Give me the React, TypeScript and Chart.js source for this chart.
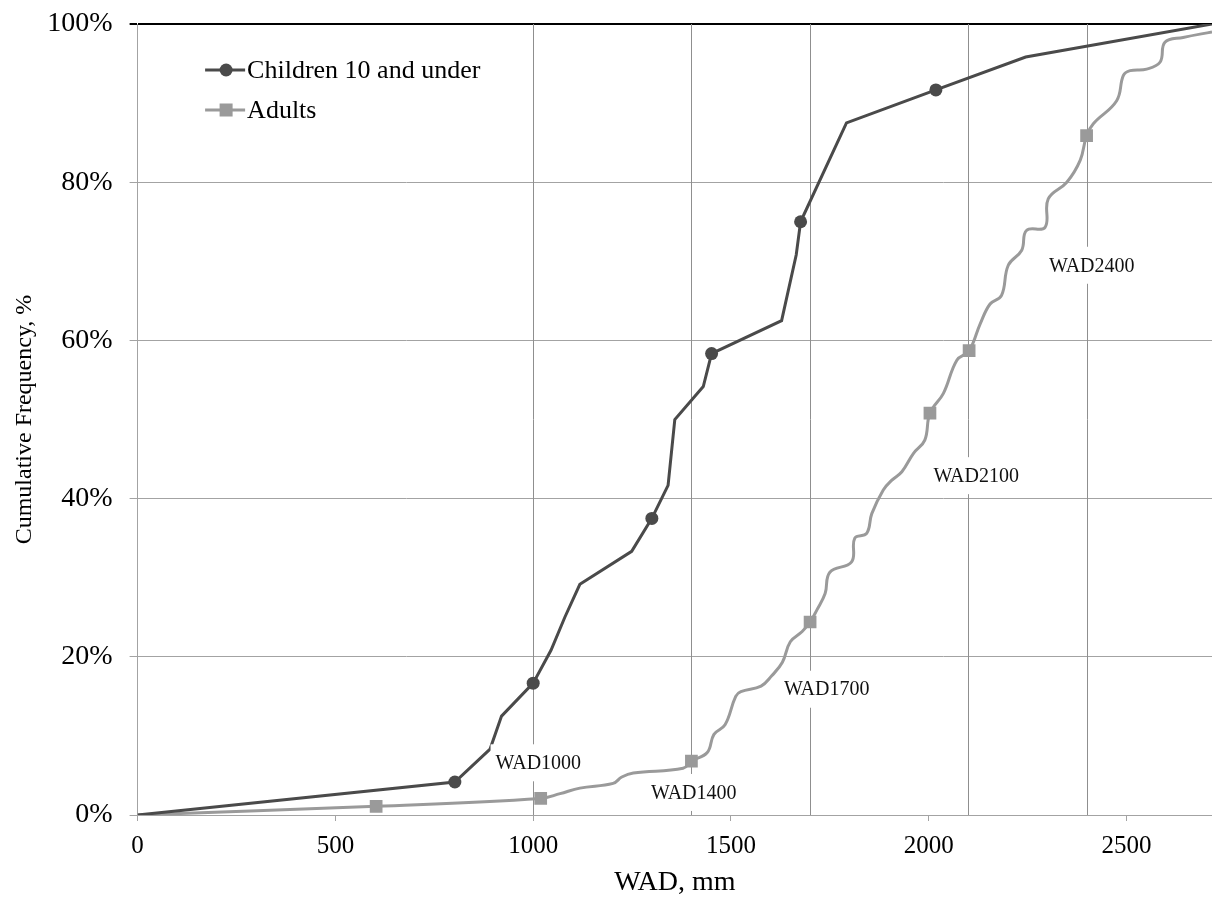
import React, { useEffect, useRef } from "react";
import { Chart, registerables } from "chart.js";

Chart.register(...registerables);

// ---------- data ----------
const xTickValues = [0, 500, 1000, 1500, 2000, 2500];
const xMax = 2716;

const childrenWad = [0, 802, 891, 920, 1000, 1045, 1080, 1118, 1249, 1300, 1341, 1358, 1430, 1451, 1628, 1665, 1676, 1792, 2018, 2245, 2716];
const childrenFreq = [0, 4.17, 8.33, 12.5, 16.67, 20.83, 25, 29.17, 33.33, 37.5, 41.67, 50, 54.17, 58.33, 62.5, 70.83, 75, 87.5, 91.67, 95.83, 100];
const childrenMarked = [false, true, false, false, true, false, false, false, false, true, false, false, false, true, false, false, true, false, true, false, false];

const adultsWad = [0, 603, 1019, 1068, 1118, 1202, 1224, 1253, 1379, 1400, 1440, 1457, 1485, 1512, 1525, 1576, 1603, 1630, 1650, 1680, 1700, 1717, 1738, 1750, 1805, 1813, 1843, 1856, 1885, 1906, 1932, 1961, 1990, 2003, 2037, 2071, 2102, 2130, 2155, 2184, 2201, 2235, 2247, 2294, 2302, 2349, 2383, 2399, 2416, 2475, 2492, 2509, 2551, 2585, 2597, 2643, 2716];
const adultsFreq = [0, 1.1, 2.1, 2.7, 3.4, 4.0, 4.8, 5.3, 5.9, 6.8, 7.9, 10.2, 11.4, 15.0, 15.6, 16.3, 17.6, 19.3, 21.9, 23.2, 24.4, 25.9, 28.0, 30.7, 32.0, 35.0, 35.6, 38.1, 41.1, 42.3, 43.4, 45.7, 47.4, 50.8, 53.3, 57.5, 58.7, 62.1, 64.6, 65.7, 69.5, 71.4, 73.9, 74.3, 77.9, 80.0, 82.8, 85.9, 87.4, 90.3, 93.5, 94.1, 94.3, 95.2, 97.7, 98.3, 99.0];
const adultsMarkedAt = [603, 1019, 1400, 1700, 2003, 2102, 2399];

const wadValues = [1000, 1400, 1700, 2100, 2400];
const wadLabels = ["WAD1000", "WAD1400", "WAD1700", "WAD2100", "WAD2400"];
const wadLabelX = [1013, 1406, 1742, 2120, 2412];
const wadLabelY = [6.6, 2.85, 15.9, 42.9, 69.5];

// ---------- styles ----------
const SERIF = '"Liberation Serif", "Times New Roman", serif';
const CHILD_COLOR = "#4a4a4a";
const ADULT_COLOR = "#9a9a9a";
const GRID_COLOR = "#a3a3a3";

const wadPlugin = {
  id: "wadPlugin",
  beforeDatasetsDraw(chart: any) {
    const { ctx, chartArea, scales } = chart;
    const x = scales.x;
    ctx.save();
    ctx.strokeStyle = "#8f8f8f";
    ctx.lineWidth = 1;
    wadValues.forEach((v) => {
      const px = Math.round(x.getPixelForValue(v)) + 0.5;
      ctx.beginPath();
      ctx.moveTo(px, chartArea.top);
      ctx.lineTo(px, chartArea.bottom);
      ctx.stroke();
    });
    ctx.restore();
  },
  afterDatasetsDraw(chart: any) {
    const { ctx, scales } = chart;
    const x = scales.x;
    const y = scales.y;
    ctx.save();
    ctx.font = `20px ${SERIF}`;
    ctx.textAlign = "center";
    ctx.textBaseline = "middle";
    wadLabels.forEach((t, i) => {
      const cx = x.getPixelForValue(wadLabelX[i]);
      const cy = y.getPixelForValue(wadLabelY[i]);
      const w = ctx.measureText(t).width + 10;
      const h = 37;
      ctx.fillStyle = "#ffffff";
      ctx.fillRect(cx - w / 2, cy - h / 2, w, h);
      ctx.fillStyle = "#111111";
      ctx.fillText(t, cx, cy + 1);
    });
    ctx.restore();
  },
  afterDraw(chart: any) {
    const { ctx, chartArea } = chart;
    ctx.save();
    const lx0 = chartArea.left + 67.5;
    const lx1 = lx0 + 40;
    const rows = [chartArea.top + 46, chartArea.top + 86];
    chart.data.datasets.forEach((ds: any, i: number) => {
      const cy = rows[i];
      ctx.strokeStyle = ds.borderColor;
      ctx.lineWidth = 3;
      ctx.beginPath();
      ctx.moveTo(lx0, cy);
      ctx.lineTo(lx1, cy);
      ctx.stroke();
      ctx.fillStyle = ds.borderColor;
      const mx = (lx0 + lx1) / 2 + 1;
      if (ds.pointStyle === "circle") {
        ctx.beginPath();
        ctx.arc(mx, cy, 6.5, 0, Math.PI * 2);
        ctx.fill();
      } else {
        ctx.fillRect(mx - 6.5, cy - 6.5, 13, 13);
      }
      ctx.fillStyle = "#000";
      ctx.font = `26px ${SERIF}`;
      ctx.textAlign = "left";
      ctx.textBaseline = "middle";
      ctx.fillText(ds.label, lx1 + 2, cy + 1);
    });
    ctx.restore();
  },
};

export default function App() {
  const ref = useRef<HTMLCanvasElement>(null);

  useEffect(() => {
    const canvas = ref.current;
    if (!canvas) return;
    const childData = childrenWad.map((v, i) => ({ x: v, y: childrenFreq[i] }));
    const adultData = adultsWad.map((v, i) => ({ x: v, y: adultsFreq[i] }));
    const chart = new Chart(canvas, {
      type: "line",
      data: {
        datasets: [
          {
            label: "Children 10 and under",
            data: childData,
            borderColor: CHILD_COLOR,
            backgroundColor: CHILD_COLOR,
            borderWidth: 3,
            pointStyle: "circle",
            pointRadius: childrenMarked.map((m) => (m ? 6.5 : 0)),
            pointBorderWidth: 0,
            tension: 0,
            fill: false,
          },
          {
            label: "Adults",
            data: adultData,
            borderColor: ADULT_COLOR,
            backgroundColor: ADULT_COLOR,
            borderWidth: 3,
            pointStyle: "rect",
            pointRadius: adultsWad.map((v) => (adultsMarkedAt.includes(v) ? 9 : 0)),
            pointBorderWidth: 0,
            tension: 0.4,
            fill: false,
          },
        ],
      },
      options: {
        animation: false,
        responsive: false,
        devicePixelRatio: 1,
        layout: { padding: { left: 0, right: 0, top: 24, bottom: 0 } },
        plugins: {
          legend: { display: false },
          tooltip: { enabled: false },
        },
        scales: {
          x: {
            type: "linear",
            min: 0,
            max: xMax,
            afterBuildTicks: (s: any) => {
              s.ticks = xTickValues.map((v) => ({ value: v }));
            },
            afterFit: (s: any) => {
              s.height = 82;
              s.paddingLeft = 0;
              s.paddingRight = 0;
            },
            ticks: {
              color: "#000",
              font: { family: SERIF, size: 25 },
              padding: 10,
              maxRotation: 0,
              autoSkip: false,
              callback: (v: any) => String(v),
            },
            grid: {
              drawOnChartArea: false,
              drawTicks: true,
              tickLength: 6,
              color: GRID_COLOR,
            },
            border: { color: GRID_COLOR, width: 1 },
            title: {
              display: true,
              text: "WAD, mm",
              color: "#000",
              font: { family: SERIF, size: 28, lineHeight: 1 },
              padding: { top: 0, bottom: 0 },
            },
          },
          y: {
            type: "linear",
            min: 0,
            max: 100,
            afterFit: (s: any) => {
              s.width = 137.6;
              s.paddingTop = 0;
              s.paddingBottom = 0;
            },
            ticks: {
              stepSize: 20,
              color: "#000",
              font: { family: SERIF, size: 28 },
              padding: 17,
              callback: (v: any) => `${v}%`,
            },
            grid: {
              color: (c: any) => (c.tick && c.tick.value === 100 ? "#000" : GRID_COLOR),
              lineWidth: (c: any) => (c.tick && c.tick.value === 100 ? 2 : 1),
              tickLength: 8,
            },
            border: { color: GRID_COLOR, width: 1 },
            title: {
              display: true,
              text: "Cumulative Frequency, %",
              color: "#000",
              font: { family: SERIF, size: 24 },
              padding: { top: 10, bottom: 0 },
            },
          },
        },
      },
      plugins: [wadPlugin],
    });
    return () => chart.destroy();
  }, []);

  return (
    <div style={{ position: "absolute", left: 0, top: 0, width: 1212, height: 897, background: "#fff" }}>
      <canvas ref={ref} width={1212} height={897} style={{ width: 1212, height: 897, display: "block" }} />
    </div>
  );
}
